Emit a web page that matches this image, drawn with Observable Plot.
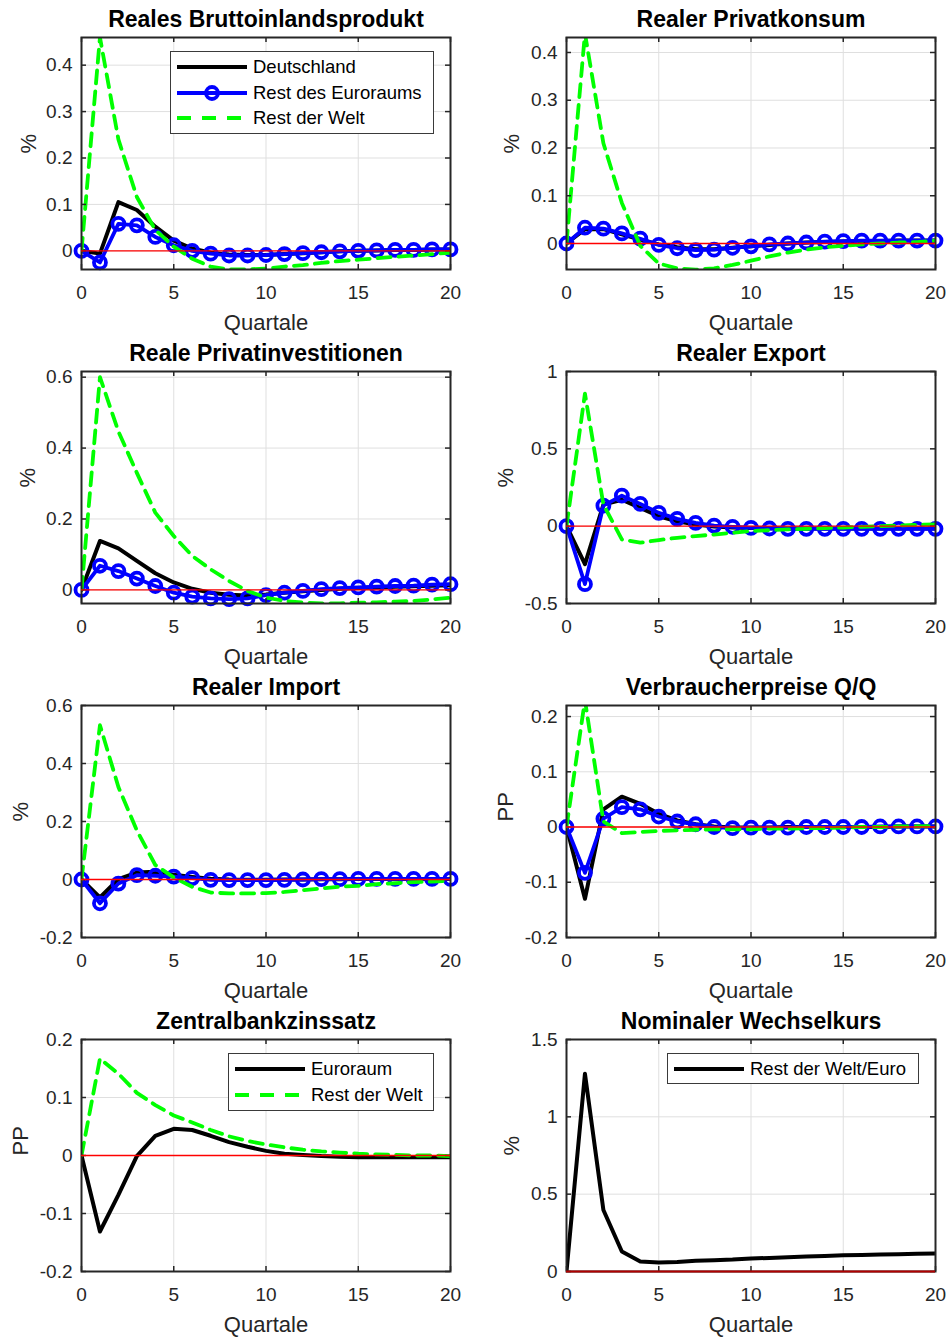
<!DOCTYPE html>
<html><head><meta charset="utf-8">
<script src="https://cdn.jsdelivr.net/npm/d3@7"></script>
<script src="https://cdn.jsdelivr.net/npm/@observablehq/plot@0.6"></script>
<style>
body{margin:0;background:#fff;}
#page{position:relative;width:948px;height:1337px;background:#fff;font-family:"Liberation Sans",Arial,sans-serif;overflow:hidden;}
.cell{position:absolute;width:474px;height:334px;}
.legend{position:absolute;background:#fff;border:1.5px solid #3a3a3a;box-sizing:border-box;}
.legend .row{position:absolute;left:0;right:0;height:24px;}
.legend .row svg{position:absolute;top:2px;}
.legend .row span{position:absolute;top:0;line-height:24px;font-size:18.5px;color:#000;white-space:nowrap;}
</style></head><body><div id="page"></div>
<script>
// ---------- data ----------
const quarters = [0,1,2,3,4,5,6,7,8,9,10,11,12,13,14,15,16,17,18,19,20];
const xTicks = [0,5,10,15,20];

const bipDE = [0,-0.006,0.105,0.088,0.052,0.022,0.005,-0.004,-0.008,-0.009,-0.009,-0.007,-0.005,-0.003,-0.001,0.000,0.001,0.002,0.002,0.003,0.003];
const bipRE = [0,-0.025,0.058,0.055,0.030,0.012,0.000,-0.006,-0.010,-0.010,-0.009,-0.007,-0.005,-0.003,-0.001,0.000,0.001,0.002,0.002,0.003,0.003];
const bipRW = [0,0.46,0.24,0.116,0.045,0.009,-0.017,-0.034,-0.040,-0.040,-0.038,-0.034,-0.031,-0.026,-0.022,-0.019,-0.016,-0.013,-0.010,-0.007,-0.004];

const konsDE = [0,0.030,0.030,0.019,0.008,-0.002,-0.008,-0.012,-0.012,-0.009,-0.006,-0.003,0.000,0.002,0.003,0.004,0.005,0.005,0.006,0.006,0.006];
const konsRE = [0,0.033,0.031,0.021,0.010,-0.003,-0.010,-0.014,-0.013,-0.009,-0.006,-0.002,0.000,0.002,0.004,0.005,0.006,0.006,0.006,0.006,0.006];
const konsRW = [0,0.44,0.21,0.085,-0.005,-0.042,-0.052,-0.055,-0.052,-0.045,-0.036,-0.027,-0.019,-0.013,-0.008,-0.005,-0.002,0.000,0.002,0.003,0.006];

const invDE = [0,0.138,0.117,0.082,0.047,0.021,0.003,-0.008,-0.014,-0.016,-0.013,-0.008,-0.004,0.000,0.003,0.005,0.007,0.009,0.010,0.012,0.013];
const invRE = [0,0.068,0.053,0.032,0.011,-0.008,-0.019,-0.024,-0.026,-0.024,-0.015,-0.008,-0.003,0.002,0.005,0.007,0.009,0.011,0.012,0.015,0.016];
const invRW = [0,0.60,0.447,0.33,0.218,0.152,0.096,0.058,0.025,-0.003,-0.022,-0.031,-0.036,-0.038,-0.038,-0.036,-0.035,-0.033,-0.031,-0.027,-0.022];

const expDE = [0,-0.246,0.139,0.171,0.118,0.064,0.032,0.011,-0.002,-0.008,-0.012,-0.014,-0.015,-0.015,-0.015,-0.015,-0.015,-0.015,-0.015,-0.015,-0.015];
const expRE = [0,-0.375,0.133,0.197,0.144,0.086,0.047,0.021,0.004,-0.004,-0.011,-0.015,-0.017,-0.017,-0.017,-0.017,-0.017,-0.017,-0.017,-0.017,-0.017];
const expRW = [0,0.857,0.14,-0.086,-0.107,-0.090,-0.075,-0.064,-0.054,-0.043,-0.032,-0.026,-0.021,-0.017,-0.013,-0.009,-0.004,0.000,0.004,0.009,0.011];

const impDE = [0,-0.062,0.001,0.024,0.027,0.016,0.009,0.003,0.000,-0.001,-0.001,0.000,0.000,0.001,0.001,0.002,0.002,0.002,0.002,0.002,0.002];
const impRE = [0,-0.082,-0.014,0.015,0.013,0.010,0.005,-0.001,-0.002,-0.002,-0.002,-0.001,0.000,0.001,0.001,0.002,0.002,0.002,0.002,0.002,0.002];
const impRW = [0,0.532,0.319,0.169,0.050,0.007,-0.025,-0.045,-0.048,-0.048,-0.047,-0.043,-0.037,-0.031,-0.025,-0.022,-0.016,-0.013,-0.009,-0.007,-0.005];

const vpiDE = [0,-0.130,0.032,0.055,0.042,0.024,0.012,0.005,0.001,-0.001,-0.001,-0.001,0.000,0.000,0.000,0.000,0.000,0.000,0.001,0.001,0.001];
const vpiRE = [0,-0.083,0.015,0.036,0.032,0.019,0.010,0.005,0.000,-0.002,-0.001,-0.001,-0.001,0.000,0.000,0.000,0.000,0.001,0.001,0.001,0.001];
const vpiRW = [0,0.23,0.010,-0.011,-0.009,-0.007,-0.006,-0.005,-0.004,-0.004,-0.004,-0.003,-0.003,-0.002,-0.002,-0.001,0.000,0.000,0.001,0.001,0.002];

const zinsEU = [0,-0.131,-0.068,-0.001,0.034,0.046,0.044,0.034,0.023,0.015,0.008,0.003,0.001,-0.001,-0.002,-0.003,-0.003,-0.003,-0.003,-0.003,-0.003];
const zinsRW = [0,0.167,0.141,0.108,0.087,0.069,0.057,0.044,0.033,0.025,0.019,0.014,0.010,0.007,0.005,0.003,0.002,0.001,0.000,0.000,-0.001];

const fxRWEuro = [0,1.279,0.398,0.129,0.064,0.058,0.062,0.069,0.073,0.077,0.084,0.088,0.092,0.097,0.101,0.105,0.107,0.110,0.112,0.114,0.116];

const titles = ["Reales Bruttoinlandsprodukt","Realer Privatkonsum","Reale Privatinvestitionen","Realer Export","Realer Import","Verbraucherpreise Q/Q","Zentralbankzinssatz","Nominaler Wechselkurs"];
const yLabels = ["%","%","%","%","%","PP","PP","%"];
const xLabel = "Quartale";
const yTicksA = [0,0.1,0.2,0.3,0.4];
const yTicksB = [0,0.2,0.4,0.6];
const yTicksC = [-0.5,0,0.5,1];
const yTicksD = [-0.2,0,0.2,0.4,0.6];
const yTicksE = [-0.2,-0.1,0,0.1,0.2];
const yTicksF = [0,0.5,1,1.5];
const yDomains = [[-0.0402,0.4596],[-0.0545,0.4314],[-0.0384,0.616],[-0.5,1],[-0.2,0.6],[-0.2,0.22],[-0.2,0.2],[0,1.5]];
const legendLabels3 = ["Deutschland","Rest des Euroraums","Rest der Welt"];
const legendLabelsZins = ["Euroraum","Rest der Welt"];
const legendLabelsFx = ["Rest der Welt/Euro"];

// ---------- styles ----------
const BLACK = "#000000", BLUE = "#0000ff", GREEN = "#00ff00", RED = "#ff0000";
const FRAME_W = 369, FRAME_H = 232, CELL_W = 474, CELL_H = 334, TOP = 37;

const panels = [
  {title:titles[0], ylabel:yLabels[0], domain:yDomains[0], ticks:yTicksA, de:bipDE, re:bipRE, rw:bipRW, ldx:-53},
  {title:titles[1], ylabel:yLabels[1], domain:yDomains[1], ticks:yTicksA, de:konsDE, re:konsRE, rw:konsRW, ldx:-55},
  {title:titles[2], ylabel:yLabels[2], domain:yDomains[2], ticks:yTicksB, de:invDE, re:invRE, rw:invRW, ldx:-54},
  {title:titles[3], ylabel:yLabels[3], domain:yDomains[3], ticks:yTicksC, de:expDE, re:expRE, rw:expRW, ldx:-61},
  {title:titles[4], ylabel:yLabels[4], domain:yDomains[4], ticks:yTicksD, de:impDE, re:impRE, rw:impRW, ldx:-61},
  {title:titles[5], ylabel:yLabels[5], domain:yDomains[5], ticks:yTicksE, de:vpiDE, re:vpiRE, rw:vpiRW, ldx:-61},
  {title:titles[6], ylabel:yLabels[6], domain:yDomains[6], ticks:yTicksE, de:zinsEU, re:null, rw:zinsRW, ldx:-61},
  {title:titles[7], ylabel:yLabels[7], domain:yDomains[7], ticks:yTicksF, de:fxRWEuro, re:null, rw:null, ldx:-55}
];

const fmt = d => String(Math.round(d * 100) / 100);
const page = document.getElementById("page");

panels.forEach((p, i) => {
  const col = i % 2, row = Math.floor(i / 2);
  const mL = col === 0 ? 81 : 92;
  const zeroAtEdge = p.domain[0] === 0;
  const data = quarters.map((q, k) => ({q, de: p.de[k], re: p.re ? p.re[k] : null, rw: p.rw ? p.rw[k] : null}));
  const marks = [
    Plot.gridX(xTicks, {stroke:"#dfdfdf", strokeOpacity:1, strokeWidth:1}),
    Plot.gridY(p.ticks, {stroke:"#dfdfdf", strokeOpacity:1, strokeWidth:1}),
    Plot.line(data, {x:"q", y:"de", stroke:BLACK, strokeWidth:4, clip:true})
  ];
  if (p.re) {
    marks.push(Plot.line(data, {x:"q", y:"re", stroke:BLUE, strokeWidth:3.8, clip:true}));
    marks.push(Plot.dot(data, {x:"q", y:"re", r:6, stroke:BLUE, strokeWidth:3.8, fill:"none"}));
  }
  if (p.rw) {
    marks.push(Plot.line(data, {x:"q", y:"rw", stroke:GREEN, strokeWidth:3.8, strokeDasharray:"13,8", clip:true}));
  }
  marks.push(
    Plot.frame({stroke:"#262626", strokeWidth:2}),
    Plot.tickX(xTicks, {x:d=>d, insetTop:FRAME_H-5, stroke:"#262626", strokeWidth:1.5}),
    Plot.tickX(xTicks, {x:d=>d, insetBottom:FRAME_H-5, stroke:"#262626", strokeWidth:1.5}),
    Plot.tickY(p.ticks, {y:d=>d, insetRight:FRAME_W-5, stroke:"#262626", strokeWidth:1.5}),
    Plot.tickY(p.ticks, {y:d=>d, insetLeft:FRAME_W-5, stroke:"#262626", strokeWidth:1.5}),
    Plot.axisX(xTicks, {tickSize:0, tickPadding:16, tickFormat:fmt, label:null, fontSize:19}),
    Plot.axisY(p.ticks, {tickSize:0, tickPadding:9, tickFormat:fmt, label:null, fontSize:19}),
    Plot.text([p.title], {text:d=>d, frameAnchor:"top", lineAnchor:"middle", dy:-18, fontWeight:"bold", fontSize:23, fill:"#000"}),
    Plot.text([xLabel], {text:d=>d, frameAnchor:"bottom", lineAnchor:"middle", dy:53, fontSize:22, fill:"#262626"}),
    Plot.text([p.ylabel], {text:d=>d, frameAnchor:"left", lineAnchor:"middle", dx:p.ldx, rotate:-90, fontSize:22, fill:"#262626"}),
    Plot.ruleY([0], {stroke: zeroAtEdge ? "#b00000" : RED, strokeWidth: zeroAtEdge ? 2 : 1.3})
  );
  const svg = Plot.plot({
    width: CELL_W, height: CELL_H,
    marginLeft: mL, marginRight: CELL_W - mL - FRAME_W,
    marginTop: TOP, marginBottom: CELL_H - TOP - FRAME_H,
    x: {domain:[0,20]},
    y: {domain:p.domain},
    style: {fontFamily:'"Liberation Sans", Arial, sans-serif', fontSize:"19px", color:"#262626", background:"transparent", overflow:"visible"},
    marks
  });
  const cell = document.createElement("div");
  cell.className = "cell";
  cell.style.left = (col * CELL_W) + "px";
  cell.style.top = (row * CELL_H) + "px";
  cell.appendChild(svg);
  page.appendChild(cell);
});

// ---------- legends ----------
function swatchInner(kind) {
  const w = 70;
  if (kind === "black") return `<line x1="0" x2="${w}" y1="10" y2="10" stroke="${BLACK}" stroke-width="4"/>`;
  if (kind === "blue") return `<line x1="0" x2="${w}" y1="10" y2="10" stroke="${BLUE}" stroke-width="3.8"/><circle cx="${w/2}" cy="10" r="6" fill="none" stroke="${BLUE}" stroke-width="3.8"/>`;
  return `<line x1="0" x2="${w}" y1="10" y2="10" stroke="${GREEN}" stroke-width="3.8" stroke-dasharray="14,11"/>`;
}
function legend(left, top, width, height, entries, rowYs) {
  const box = document.createElement("div");
  box.className = "legend";
  box.style.left = left + "px"; box.style.top = top + "px";
  box.style.width = width + "px"; box.style.height = height + "px";
  entries.forEach((e, k) => {
    const r = document.createElement("div");
    r.className = "row";
    r.style.top = (rowYs[k] - 12) + "px";
    r.innerHTML = `<svg style="left:6px" width="70" height="20">${swatchInner(e.kind)}</svg><span style="left:82px">${e.label}</span>`;
    box.appendChild(r);
  });
  page.appendChild(box);
}
legend(170, 51, 264, 83, [
  {label:legendLabels3[0], kind:"black"},
  {label:legendLabels3[1], kind:"blue"},
  {label:legendLabels3[2], kind:"green"}
], [15, 40.5, 66]);
legend(228, 1053, 206, 58, [
  {label:legendLabelsZins[0], kind:"black"},
  {label:legendLabelsZins[1], kind:"green"}
], [15, 41]);
legend(667, 1053, 252, 31, [
  {label:legendLabelsFx[0], kind:"black"}
], [14.5]);
</script></body></html>
